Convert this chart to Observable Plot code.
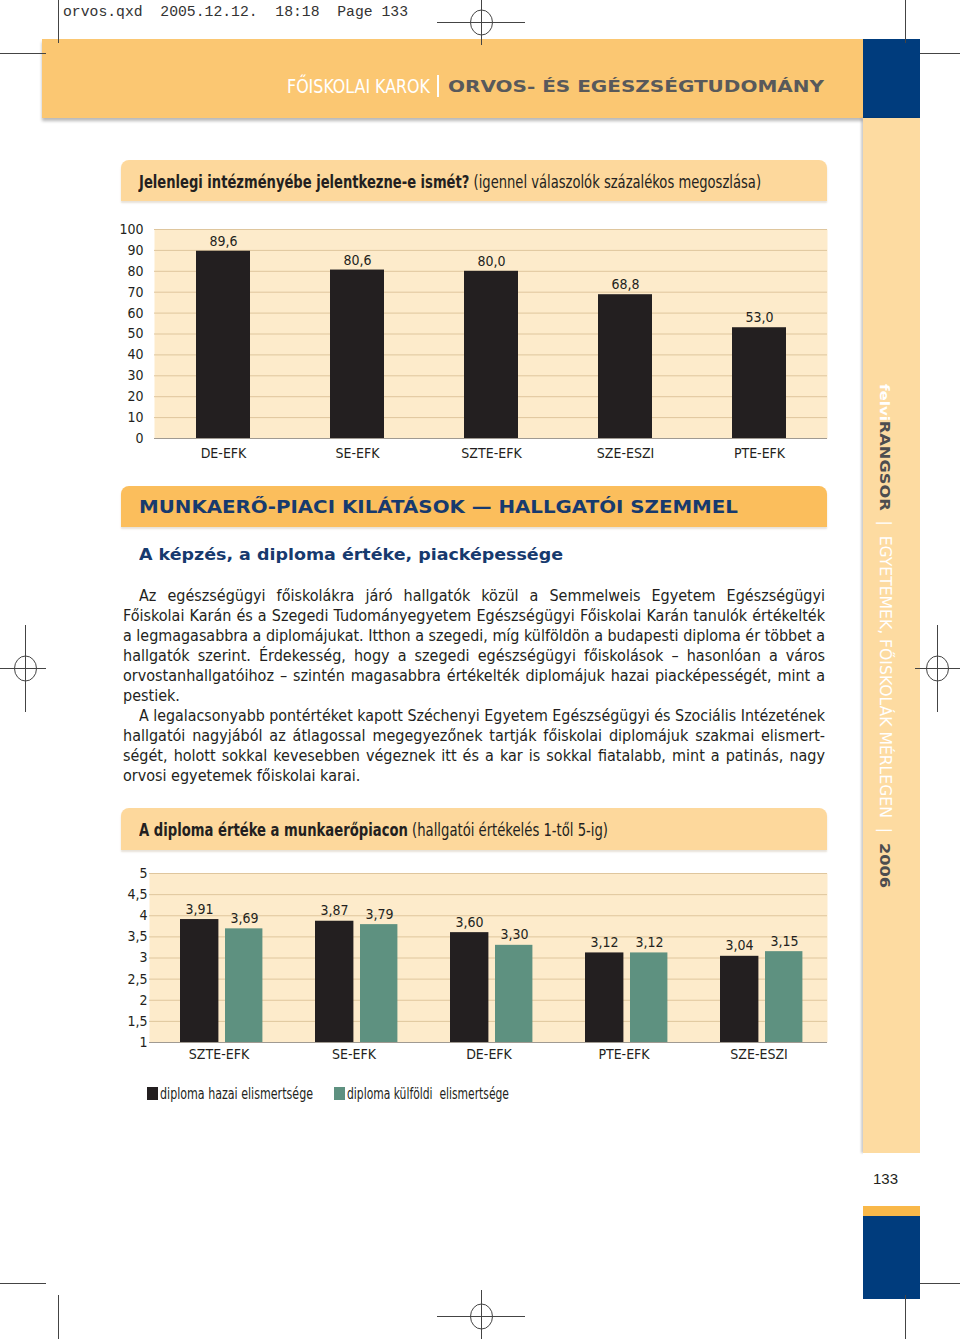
<!DOCTYPE html>
<html><head><meta charset="utf-8">
<script src="https://cdn.jsdelivr.net/npm/d3@7"></script>
<script src="https://cdn.jsdelivr.net/npm/@observablehq/plot@0.6"></script>
<style>
html,body{margin:0;padding:0;background:#fff;}
body{width:960px;height:1339px;position:relative;overflow:hidden;font-family:"Liberation Sans Narrow","DejaVu Sans Condensed","Arial Narrow",sans-serif;color:#231F20;}
.abs{position:absolute;}
.fit{position:absolute;white-space:pre;transform-origin:0 0;}
.ext{font-family:"DejaVu Sans",sans-serif;font-weight:bold;}
.box{position:absolute;left:121px;width:706px;border-radius:8px 8px 0 0;box-shadow:0 2px 2px rgba(120,90,40,.18);}
.ln{position:absolute;white-space:nowrap;font-size:16px;line-height:20px;transform-origin:0 0;}
</style></head>
<body>
<div class="abs" style="left:42px;top:39px;width:821px;height:79px;background:#FBC772;box-shadow:0 3px 3px rgba(0,0,0,.28);"></div>
<div class="abs" style="left:863px;top:39px;width:57px;height:79px;background:#003C7D;"></div>
<div class="abs" style="left:863px;top:118px;width:57px;height:1035px;background:#FDDBA1;box-shadow:-2px 0 2px rgba(0,0,0,.2);"></div>
<div class="abs" style="left:863px;top:1153px;width:57px;height:53px;background:#fff;"></div>
<div class="abs" style="left:873px;top:1170px;font-family:'Liberation Sans',sans-serif;font-size:15px;line-height:18px;color:#231F20;">133</div>
<div class="abs" style="left:863px;top:1206px;width:57px;height:10px;background:#F9B849;"></div>
<div class="abs" style="left:863px;top:1216px;width:57px;height:83px;background:#003C7D;"></div>

<div class="fit" data-w="345" style="left:63px;top:4px;font-family:'Liberation Mono',monospace;font-size:14.5px;line-height:16px;color:#333;">orvos.qxd  2005.12.12.  18:18  Page 133</div>

<div class="fit" data-w="143" style="left:287px;top:75px;font-size:19px;line-height:22px;color:#fff;">FŐISKOLAI KAROK</div>
<div class="abs" style="left:437px;top:75px;width:1.5px;height:22px;background:#fff;"></div>
<div class="fit ext" data-w="376" style="left:448px;top:77px;font-size:16px;line-height:19px;color:#58595B;">ORVOS- ÉS EGÉSZSÉGTUDOMÁNY</div>

<div id="side" class="fit" style="left:884px;top:384px;font-size:15px;line-height:18px;"><span class="ext" style="color:#fff;font-size:13px;">felvi</span><span class="ext" style="color:#4D4D4F;font-size:14px;">RANGSOR</span><span style="color:#fff;">  |  EGYETEMEK, FŐISKOLÁK MÉRLEGEN  |  </span><span class="ext" style="color:#4D4D4F;font-size:14px;">2006</span></div>

<div class="box" style="top:160px;height:41px;background:#FDD89C;"></div>
<div class="fit" data-w="622" style="left:139px;top:172px;font-size:18px;line-height:20px;"><b>Jelenlegi intézményébe jelentkezne-e ismét?</b> (igennel válaszolók százalékos megoszlása)</div>
<div id="chart1" class="abs" style="left:110px;top:215px;"></div>

<div class="box" style="top:486px;height:41px;background:#FBBE5C;"></div>
<div class="fit ext" data-w="599" style="left:139px;top:497px;font-size:17px;line-height:20px;color:#173A6E;">MUNKAERŐ-PIACI KILÁTÁSOK — HALLGATÓI SZEMMEL</div>
<div class="fit ext" data-w="424" style="left:139px;top:545px;font-size:16px;line-height:20px;color:#173A6E;">A képzés, a diploma értéke, piacképessége</div>

<div id="body"></div>

<div class="box" style="top:808px;height:42px;background:#FDD89C;"></div>
<div class="fit" data-w="469" style="left:139px;top:820px;font-size:18px;line-height:20px;"><b>A diploma értéke a munkaerőpiacon</b> (hallgatói értékelés 1-től 5-ig)</div>
<div id="chart2" class="abs" style="left:110px;top:860px;"></div>
<div id="legend"></div>

<svg class="abs" style="left:0;top:0;pointer-events:none" width="960" height="1339" fill="none" stroke="#444" stroke-width="1">
<path d="M58.5 0V43M0 53.5H46M905.5 0V43M920 53.5H960"/>
<path d="M437 22.5H525M481.5 0V45"/><ellipse cx="481.5" cy="22.5" rx="11" ry="12.5"/>
<path d="M0 668.5H46M25.5 625V712"/><ellipse cx="25.5" cy="668.5" rx="11" ry="12.5"/>
<path d="M915 668.5H960M937.5 625V712"/><ellipse cx="937.5" cy="668.5" rx="11" ry="12.5"/>
<path d="M0 1283.5H46M58.5 1295V1339M920 1283.5H960M905.5 1295V1339"/>
<path d="M437 1316.5H525M481.5 1290V1339"/><ellipse cx="481.5" cy="1316.5" rx="11" ry="12.5"/>
</svg>

<script>
// ---------- data ----------
const cats1 = ["DE-EFK", "SE-EFK", "SZTE-EFK", "SZE-ESZI", "PTE-EFK"];
const vals1 = [89.6, 80.6, 80.0, 68.8, 53.0];
const yTicks1 = [0, 10, 20, 30, 40, 50, 60, 70, 80, 90, 100];

const cats2 = ["SZTE-EFK", "SE-EFK", "DE-EFK", "PTE-EFK", "SZE-ESZI"];
const hazai = [3.91, 3.87, 3.60, 3.12, 3.04];
const kulfoldi = [3.69, 3.79, 3.30, 3.12, 3.15];
const yTicks2 = [1, 1.5, 2, 2.5, 3, 3.5, 4, 4.5, 5];
const seriesNames = ["diploma hazai elismertsége", "diploma külföldi  elismertsége"];
const seriesColors = ["#231F20", "#5E9180"];

const bodyLines = [
  ["Az egészségügyi főiskolákra járó hallgatók közül a Semmelweis Egyetem Egészségügyi", 1, 1],
  ["Főiskolai Karán és a Szegedi Tudományegyetem Egészségügyi Főiskolai Karán tanulók értékelték", 0, 1],
  ["a legmagasabbra a diplomájukat. Itthon a szegedi, míg külföldön a budapesti diploma ér többet a", 0, 1],
  ["hallgatók szerint. Érdekesség, hogy a szegedi egészségügyi főiskolások – hasonlóan a város", 0, 1],
  ["orvostanhallgatóihoz – szintén magasabbra értékelték diplomájuk hazai piacképességét, mint a", 0, 1],
  ["pestiek.", 0, 0],
  ["A legalacsonyabb pontértéket kapott Széchenyi Egyetem Egészségügyi és Szociális Intézetének", 1, 1],
  ["hallgatói nagyjából az átlagossal megegyezőnek tartják főiskolai diplomájuk szakmai elismert-", 0, 1],
  ["ségét, holott sokkal kevesebben végeznek itt és a kar is sokkal fiatalabb, mint a patinás, nagy", 0, 1],
  ["orvosi egyetemek főiskolai karai.", 0, 0]
];

const FONT = '"Liberation Sans Narrow","DejaVu Sans Condensed","Arial Narrow",sans-serif';
const comma = (f) => (d) => d3.format(f)(d).replace(".", ",");

// ---------- chart 1 ----------
const data1 = cats1.map((c, i) => ({cat: c, val: vals1[i]}));
const chart1 = Plot.plot({
  width: 730, height: 255,
  marginLeft: 44, marginRight: 13, marginTop: 14, marginBottom: 32,
  style: {fontFamily: FONT, fontSize: "14px", color: "#231F20", background: "transparent"},
  x: {domain: cats1, paddingInner: 0.6, paddingOuter: 0.306, label: null},
  y: {domain: [0, 100], label: null},
  marks: [
    Plot.frame({fill: "#FDEBCB", stroke: null}),
    Plot.gridY(yTicks1, {stroke: "#DFC69D", strokeOpacity: 1}),
    Plot.ruleY([0], {stroke: "#A09A92"}),
    Plot.barY(data1, {x: "cat", y: "val", fill: "#231F20"}),
    Plot.text(data1, {x: "cat", y: "val", text: (d) => comma(".1f")(d.val), dy: -10, fontSize: 14}),
    Plot.axisY({ticks: yTicks1, tickSize: 0, tickPadding: 11, tickFormat: (d) => d, fontSize: 14}),
    Plot.axisX({tickSize: 0, tickPadding: 10, fontSize: 14})
  ]
});
document.getElementById("chart1").appendChild(chart1);

// ---------- chart 2 ----------
const data2 = cats2.map((c, i) => ({cat: c, hazai: hazai[i], kulfoldi: kulfoldi[i]}));
const chart2 = Plot.plot({
  width: 730, height: 215,
  marginLeft: 39, marginRight: 13, marginTop: 13, marginBottom: 33,
  style: {fontFamily: FONT, fontSize: "14px", color: "#231F20", background: "transparent"},
  x: {domain: cats2, padding: 0, label: null},
  y: {domain: [1, 5], label: null},
  marks: [
    Plot.frame({fill: "#FDEBCB", stroke: null}),
    Plot.gridY(yTicks2, {stroke: "#DFC69D", strokeOpacity: 1}),
    Plot.ruleY([1], {stroke: "#A09A92"}),
    Plot.barY(data2, {x: "cat", y1: () => 1, y2: "hazai", fill: seriesColors[0], insetLeft: 29, insetRight: 67.6}),
    Plot.barY(data2, {x: "cat", y1: () => 1, y2: "kulfoldi", fill: seriesColors[1], insetLeft: 74, insetRight: 23.6}),
    Plot.text(data2, {x: "cat", y: "hazai", text: (d) => comma(".2f")(d.hazai), dx: -19.5, dy: -10.5, fontSize: 14}),
    Plot.text(data2, {x: "cat", y: "kulfoldi", text: (d) => comma(".2f")(d.kulfoldi), dx: 25.5, dy: -10.5, fontSize: 14}),
    Plot.axisY({ticks: yTicks2, tickSize: 0, tickPadding: 2, tickFormat: comma(""), fontSize: 14}),
    Plot.axisX({tickSize: 0, tickPadding: 7, fontSize: 14})
  ]
});
document.getElementById("chart2").appendChild(chart2);

// ---------- legend ----------
const legend = document.getElementById("legend");
const legX = [147, 334];
const legW = [153, 162];
seriesNames.forEach((name, i) => {
  const sw = document.createElement("div");
  sw.className = "abs";
  sw.style.cssText = `left:${legX[i]}px;top:1087px;width:11px;height:13px;background:${seriesColors[i]};`;
  legend.appendChild(sw);
  const t = document.createElement("div");
  t.className = "fit";
  t.dataset.w = legW[i];
  t.style.cssText = `left:${legX[i] + 13}px;top:1084px;font-size:16px;line-height:20px;`;
  t.textContent = name;
  legend.appendChild(t);
});

// ---------- body text ----------
const body = document.getElementById("body");
bodyLines.forEach(([txt, indent, just], i) => {
  const el = document.createElement("div");
  el.className = "ln";
  const left = indent ? 139 : 123;
  el.style.left = left + "px";
  el.style.top = (586 + i * 20) + "px";
  el.textContent = txt;
  body.appendChild(el);
  const target = 825 - left;
  const w = el.getBoundingClientRect().width;
  const spaces = (txt.match(/ /g) || []).length;
  if (w > target) {
    el.style.transform = `scaleX(${target / w})`;
  } else if (just && spaces) {
    el.style.wordSpacing = ((target - w) / spaces) + "px";
  }
});

// ---------- fit headings ----------
document.querySelectorAll("[data-w]").forEach((el) => {
  const w = el.getBoundingClientRect().width;
  el.style.transform = `scaleX(${+el.dataset.w / w})`;
});
const side = document.getElementById("side");
const sw = side.getBoundingClientRect().width;
side.style.transform = `rotate(90deg) translateY(-50%) scaleX(${504 / sw})`;
</script>
</body></html>
